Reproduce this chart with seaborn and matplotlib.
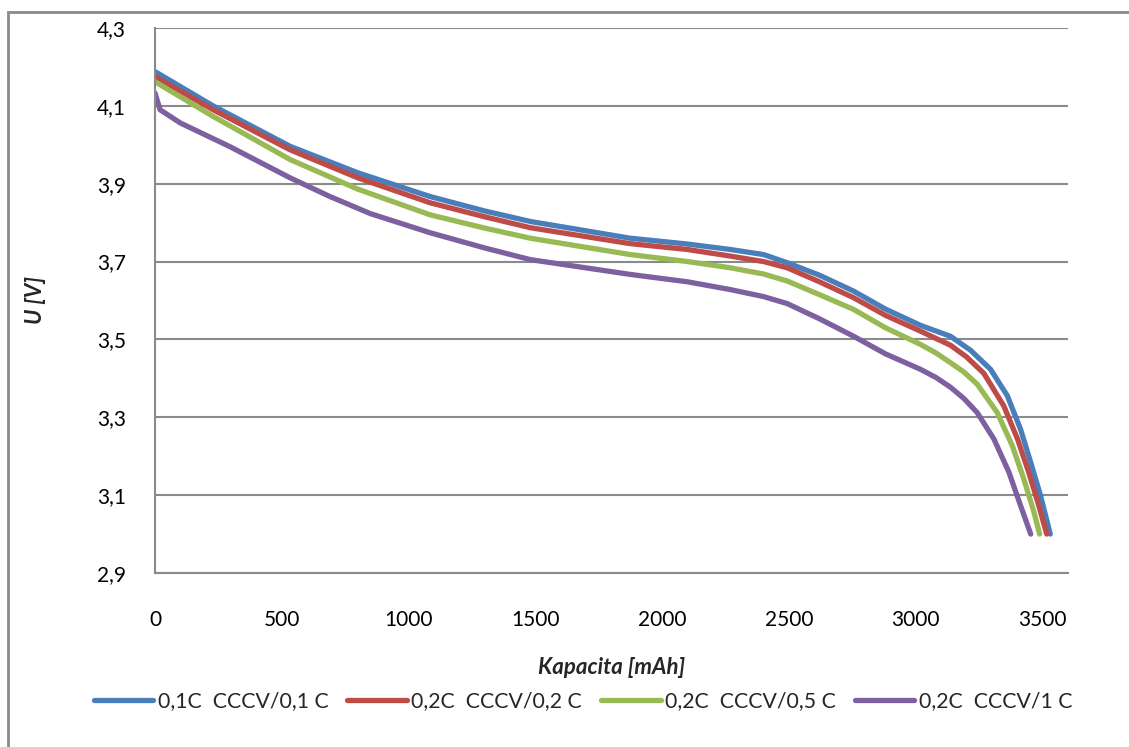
import numpy as np
import pandas as pd
import seaborn as sns
import matplotlib.pyplot as plt
from matplotlib.patches import Rectangle

# discharge curves (capacity mAh, voltage V)
cap_01 = [0, 229, 533, 800, 1085, 1300, 1480, 1874, 2100, 2269, 2400, 2493, 2620, 2755, 2880, 3019, 3137,
          3216, 3295, 3361, 3413, 3453, 3492, 3530]
u_01 = [4.188, 4.100, 3.996, 3.928, 3.867, 3.830, 3.803, 3.760, 3.745, 3.731, 3.718, 3.697, 3.665, 3.624, 3.578,
        3.536, 3.508, 3.472, 3.423, 3.355, 3.269, 3.184, 3.098, 3.000]

cap_02 = [0, 229, 533, 800, 1085, 1300, 1480, 1874, 2100, 2269, 2400, 2493, 2620, 2755, 2880, 3019, 3137,
          3200, 3268, 3347, 3401, 3445, 3485, 3516]
u_02 = [4.175, 4.090, 3.987, 3.915, 3.851, 3.815, 3.787, 3.746, 3.731, 3.714, 3.700, 3.684, 3.648, 3.607, 3.562,
        3.521, 3.485, 3.455, 3.413, 3.329, 3.244, 3.159, 3.073, 3.000]

cap_05 = [0, 229, 533, 800, 1085, 1300, 1480, 1874, 2100, 2269, 2400, 2493, 2620, 2755, 2880, 3019, 3080,
          3137, 3190, 3242, 3321, 3381, 3426, 3466, 3488]
u_05 = [4.162, 4.073, 3.962, 3.886, 3.820, 3.786, 3.760, 3.718, 3.700, 3.684, 3.668, 3.650, 3.615, 3.577, 3.530,
        3.487, 3.465, 3.440, 3.416, 3.385, 3.312, 3.226, 3.141, 3.056, 3.000]

cap_1 = [0, 20, 100, 296, 533, 690, 850, 1085, 1300, 1480, 1874, 2100, 2269, 2400, 2493, 2620, 2755, 2880,
         3019, 3080, 3137, 3190, 3242, 3308, 3367, 3413, 3453]
u_1 = [4.133, 4.090, 4.056, 3.995, 3.915, 3.867, 3.823, 3.774, 3.735, 3.705, 3.667, 3.648, 3.628, 3.610, 3.592,
       3.553, 3.508, 3.463, 3.423, 3.402, 3.377, 3.348, 3.312, 3.244, 3.159, 3.073, 3.000]

labels = ['0,1C  CCCV/0,1 C', '0,2C  CCCV/0,2 C', '0,2C  CCCV/0,5 C', '0,2C  CCCV/1 C']
colors = ['#4A7EBB', '#BE4B48', '#98B954', '#7D60A0']

x_ticks = [0, 500, 1000, 1500, 2000, 2500, 3000, 3500]
y_ticks = [2.9, 3.1, 3.3, 3.5, 3.7, 3.9, 4.1, 4.3]

frames = []
for lab, c, u in zip(labels, [cap_01, cap_02, cap_05, cap_1], [u_01, u_02, u_05, u_1]):
    frames.append(pd.DataFrame({'cap': c, 'u': u, 'serie': lab}))
df = pd.concat(frames, ignore_index=True)

sns.set_style('white')
plt.rcParams['font.family'] = ['Lato', 'DejaVu Sans']

fig = plt.figure(figsize=(11.29, 7.47), dpi=100)
ax = fig.add_axes([155 / 1129, 1 - 573 / 747, (1068 - 155) / 1129, (573 - 28) / 747])

sns.lineplot(data=df, x='cap', y='u', hue='serie', palette=colors, sort=False,
             estimator=None, linewidth=3.8, solid_capstyle='round', solid_joinstyle='round', ax=ax)

ax.set_xlim(0, 3600)
ax.set_ylim(2.9, 4.3)
ax.set_xticks(x_ticks)
ax.set_yticks(y_ticks)
ax.set_yticklabels([f'{v:.1f}'.replace('.', ',') for v in y_ticks])
ax.grid(axis='y', color='#8a8a8a', linewidth=1.5)
ax.grid(axis='x', visible=False)
ax.set_axisbelow(True)
for s in ['top', 'right']:
    ax.spines[s].set_visible(False)
for s in ['left', 'bottom']:
    ax.spines[s].set_color('#8a8a8a')
    ax.spines[s].set_linewidth(1.5)
ax.tick_params(axis='both', direction='out', length=6, width=1.3, color='#8a8a8a',
               labelsize=15, labelcolor='black')
ax.tick_params(axis='x', pad=21)
ax.tick_params(axis='y', pad=15)
ax.set_xlabel('')
ax.set_ylabel('')

fig.text(35 / 1129, 1 - 300 / 747, 'U [V]', rotation=90, ha='center', va='center',
         fontsize=16, fontweight='bold', fontstyle='italic')
fig.text(612 / 1129, 1 - 668 / 747, 'Kapacita [mAh]', ha='center', va='center',
         fontsize=16, fontweight='bold', fontstyle='italic')

handles, labs = ax.get_legend_handles_labels()
ax.get_legend().remove()
fig.legend(handles, labs, loc='center', bbox_to_anchor=(583 / 1129, 1 - 701 / 747),
           ncol=4, frameon=False, fontsize=15.3, handlelength=2.8, handletextpad=0.2,
           columnspacing=0.9)

# outer chart border
fig.patches.append(Rectangle((8 / 1129, -0.05), 1.2, 1 - 12 / 747 + 0.05, transform=fig.transFigure,
                             fill=False, edgecolor='#8a8a8a', linewidth=2))

fig.savefig('out.png', dpi=100)
